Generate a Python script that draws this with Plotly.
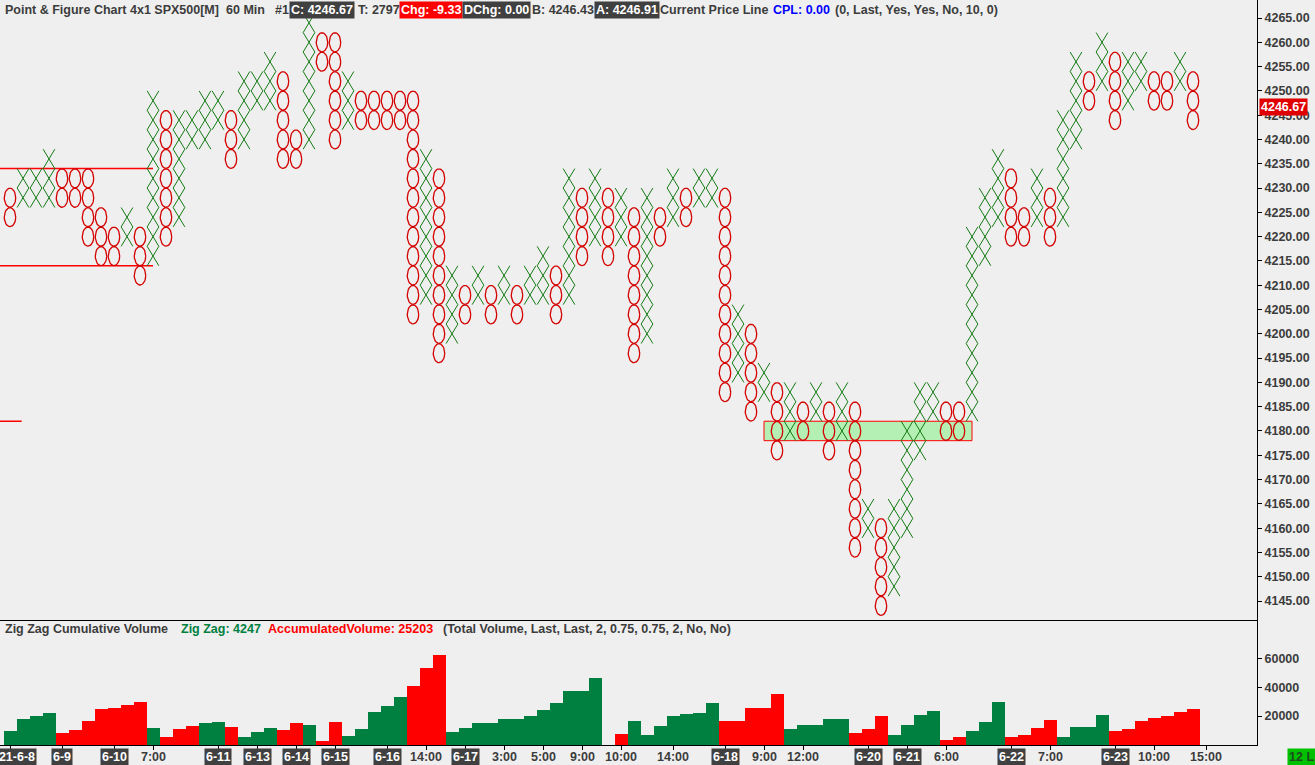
import numpy as np
import plotly.graph_objects as go

# ---------------- data ----------------
col_types = ["O","X","X","X","O","O","O","O","O","X",
             "O","X","O","X","X","X","X","O","X","X",
             "X","O","O","X","O","O","X","O","O","O",
             "O","O","X","O","X","O","X","O","X","O",
             "X","X","O","X","O","X","O","X","O","X",
             "O","X","O","X","X","O","X","O","X","O",
             "X","O","X","O","X","O","X","O","X","X",
             "X","X","O","O","X","X","X","O","O","X",
             "O","X","X","O","X","O","X","X","O","O",
             "X","O"]
col_lows = [4224,4228,4228,4228,4228,4228,4220,4216,4216,4220,
            4212,4216,4220,4224,4240,4240,4244,4236,4240,4248,
            4248,4236,4236,4240,4256,4240,4244,4244,4244,4244,
            4244,4204,4208,4196,4200,4204,4208,4204,4208,4204,
            4208,4208,4204,4208,4216,4220,4216,4220,4196,4200,
            4220,4224,4224,4228,4228,4188,4192,4184,4188,4176,
            4180,4180,4184,4176,4180,4156,4160,4144,4148,4160,
            4176,4184,4180,4180,4184,4216,4224,4220,4220,4224,
            4220,4224,4240,4248,4252,4244,4248,4252,4248,4248,
            4252,4244]
col_highs = [4228,4232,4232,4236,4232,4232,4232,4224,4220,4224,
             4220,4248,4244,4244,4244,4248,4248,4244,4252,4252,
             4256,4252,4240,4264,4260,4260,4252,4248,4248,4248,
             4248,4248,4236,4232,4212,4208,4212,4208,4212,4208,
             4212,4216,4212,4232,4228,4232,4228,4228,4224,4228,
             4224,4232,4228,4232,4232,4228,4204,4200,4192,4188,
             4188,4184,4188,4184,4188,4184,4164,4160,4164,4180,
             4188,4188,4184,4184,4220,4228,4236,4232,4224,4232,
             4228,4244,4256,4252,4260,4256,4256,4256,4252,4252,
             4256,4252]
box_size = 4

volume = [9800,18250,20350,22460,8420,10530,16840,24800,25270,27380,
          29480,11930,5600,11230,13330,15440,16140,12630,5600,9120,
          11930,10530,15440,14040,2800,16140,6320,11230,23160,26670,
          32980,40700,53330,62450,9120,11930,15440,15440,18250,18250,
          20350,24560,28770,37190,37190,46320,0,7720,16840,7020,
          13330,20350,21760,22460,28770,16840,16840,25270,25270,35090,
          11230,14040,14040,18250,18250,8420,11230,20350,7020,14040,
          21060,23860,3510,5600,9820,16140,29480,5600,7020,11930,
          17540,5600,12630,12630,21060,9820,11230,16840,18950,20350,
          23160,25203]
volume_dir = ("GGGGRRRRRRRGRRRGGRGGGRRGRRGGGGGRRRGGGGGGGGGGGGRRGG"
              "GGGGGRRRRRGGGGGRRRGGGGRRGGGRRRRGGGGRRRRRRR")

# horizontal reference lines (price, from column, to column)
ref_line_prices = [4234, 4214, 4182]
ref_line_start = [0.2, 0.2, 0.2]
ref_line_end = [12, 12, 1.9]

# highlighted zone
zone_low, zone_high = 4178, 4182
zone_start_col, zone_end_col = 59, 75

current_price = 4246.67

# x-axis labels (column position, text, is_date)
xlab_cols = [1, 5, 9, 12, 17, 20, 23, 26, 30, 33, 36, 39, 42, 45, 48, 52, 56, 59, 62,
             67, 70, 73, 78, 81, 86, 89, 93]
xlab_text = ["2021-6-8", "6-9", "6-10", "7:00", "6-11", "6-13", "6-14", "6-15", "6-16",
             "14:00", "6-17", "3:00", "5:00", "9:00", "10:00", "14:00", "6-18", "9:00",
             "12:00", "6-20", "6-21", "6:00", "6-22", "7:00", "6-23", "10:00", "15:00"]
xlab_is_date = [True, True, True, False, True, True, True, True, True, False, True,
                False, False, False, False, False, True, False, False, True, True, False,
                True, False, True, False, False]

price_ticks = list(range(4145, 4266, 5))
vol_ticks = [20000, 40000, 60000]

# ---------------- geometry ----------------
W, H = 1315, 765
ML, MR, MT, MB = 0, 58, 0, 20
plot_w = W - ML - MR  # 1257
plot_h = H - MT - MB  # 745
px_per_col = 13.0
first_col_px = 10.0
x_range = [1 - first_col_px / px_per_col, 1 + (plot_w - first_col_px) / px_per_col]
vol_frac = 125 / plot_h
y_range = [4141.09, 4268.705]
vol_range = [0, 86500]

BG = "#efefef"
GREEN_X = "#137a13"
RED_O = "#d40000"
TXT = "#3c3c3c"
FONT = "Liberation Sans"

cols = list(range(1, len(col_types) + 1))
half = box_size / 2

xx, xy, ox, oy = [], [], [], []
t = np.linspace(0, 2 * np.pi, 33)
for c, typ, lo, hi in zip(cols, col_types, col_lows, col_highs):
    for p in range(lo, hi + 1, box_size):
        if typ == "X":
            w = 0.45
            xx += [c - w, c + w, None, c - w, c + w, None]
            xy += [p + half, p - half, None, p - half, p + half, None]
        else:
            ox += list(c + 0.44 * np.cos(t)) + [None]
            oy += list(p + 1.95 * np.sin(t)) + [None]

fig = go.Figure()

# zone rectangle
fig.add_trace(go.Scatter(
    x=[zone_start_col, zone_end_col, zone_end_col, zone_start_col, zone_start_col],
    y=[zone_low, zone_low, zone_high, zone_high, zone_low],
    mode="lines", fill="toself", fillcolor="#b4f0b4",
    line=dict(color="#ff0000", width=1), hoverinfo="skip", showlegend=False))

# reference lines
for p, s, e in zip(ref_line_prices, ref_line_start, ref_line_end):
    fig.add_trace(go.Scatter(x=[s, e], y=[p, p], mode="lines",
                             line=dict(color="#ff0000", width=1.5),
                             hoverinfo="skip", showlegend=False))

fig.add_trace(go.Scatter(x=xx, y=xy, mode="lines", line=dict(color=GREEN_X, width=1),
                         hoverinfo="skip", showlegend=False))
fig.add_trace(go.Scatter(x=ox, y=oy, mode="lines", line=dict(color=RED_O, width=1.3),
                         hoverinfo="skip", showlegend=False))

bar_colors = ["#008040" if d == "G" else "#ff0000" for d in volume_dir]
fig.add_trace(go.Bar(x=cols, y=volume, width=1.0, marker=dict(color=bar_colors, line=dict(width=0)),
                     xaxis="x2", yaxis="y2", hoverinfo="skip", showlegend=False))

tickfont = dict(family=FONT, size=12.5, color=TXT, weight="bold")
fig.update_layout(
    width=W, height=H, margin=dict(l=ML, r=MR, t=MT, b=MB),
    paper_bgcolor=BG, plot_bgcolor=BG, showlegend=False,
    xaxis=dict(domain=[0, 1], range=x_range, anchor="y", showgrid=False, zeroline=False,
               showticklabels=False, ticks="", showline=True, linecolor="black", linewidth=1),
    xaxis2=dict(domain=[0, 1], range=x_range, anchor="y2", matches="x", showgrid=False,
                zeroline=False, showticklabels=False, tickvals=xlab_cols, ticks="outside",
                ticklen=4, tickcolor="black", showline=True, linecolor="black", linewidth=1),
    yaxis=dict(domain=[vol_frac, 1], range=y_range, side="right", showgrid=False, zeroline=False,
               tickvals=price_ticks, ticktext=[f"{v:.2f}" for v in price_ticks],
               ticks="outside", ticklen=4, tickcolor="black", tickfont=tickfont,
               showline=True, mirror=True, linecolor="black", linewidth=1, automargin=False),
    yaxis2=dict(domain=[0, vol_frac], range=vol_range, side="right", showgrid=False, zeroline=False,
                tickvals=vol_ticks, ticktext=[str(v) for v in vol_ticks],
                ticks="outside", ticklen=4, tickcolor="black", tickfont=tickfont,
                showline=True, mirror=True, linecolor="black", linewidth=1, automargin=False),
    bargap=0,
)

ann = []
def txt(xpx, ypx, s, color=TXT, bg=None, size=12.5):
    a = dict(xref="paper", yref="paper", x=xpx / plot_w, y=1 - ypx / plot_h,
             xanchor="left", yanchor="middle", text=s, showarrow=False,
             font=dict(family=FONT, size=size, color=color, weight="bold"), borderpad=1)
    if bg:
        a["bgcolor"] = bg
    ann.append(a)

# header
txt(3, 10, "Point &amp; Figure Chart 4x1 SPX500[M]")
txt(224, 10, "60 Min")
txt(273, 10, "#1")
txt(289, 10, "C: 4246.67", color="white", bg="#404040")
txt(356, 10, "T: 2797")
txt(399, 10, "Chg: -9.33", color="white", bg="#ff0000")
txt(462, 10, "DChg: 0.00", color="white", bg="#404040")
txt(530, 10, "B: 4246.43")
txt(594, 10, "A: 4246.91", color="white", bg="#404040")
txt(658, 10, "Current Price Line")
txt(771, 10, "CPL: 0.00", color="#0000ff")
txt(833, 10, "(0, Last, Yes, Yes, No, 10, 0)")

# volume header
txt(3, 629, "Zig Zag Cumulative Volume")
txt(179, 629, "Zig Zag: 4247", color="#008040")
txt(266, 629, "AccumulatedVolume: 25203", color="#ff0000")
txt(441, 629, "(Total Volume, Last, Last, 2, 0.75, 0.75, 2, No, No)")

# current price label
ann.append(dict(xref="paper", yref="y", x=1, y=current_price, xanchor="left", yanchor="middle",
                xshift=2, text=str(current_price), showarrow=False, bgcolor="#e00000", borderpad=1,
                font=dict(family=FONT, size=12.5, color="white", weight="bold")))

# x labels
for c, s, d in zip(xlab_cols, xlab_text, xlab_is_date):
    a = dict(xref="x2", yref="paper", x=c, y=0, xanchor="center", yanchor="top", yshift=-3,
             text=s, showarrow=False, borderpad=1,
             font=dict(family=FONT, size=12.5, color="white" if d else TXT, weight="bold"))
    if d:
        a["bgcolor"] = "#404040"
    ann.append(a)

# bottom right badge
ann.append(dict(xref="paper", yref="paper", x=1, y=0, xanchor="left", yanchor="top",
                xshift=30, yshift=-3, text="12 L", showarrow=False, bgcolor="#00c000", borderpad=1,
                font=dict(family=FONT, size=12.5, color="#1e4a1e", weight="bold")))

fig.update_layout(annotations=ann)
fig.write_html("out.html", config={"displayModeBar": False},
               post_script="document.body.style.margin='0';document.body.style.overflow='hidden';")
